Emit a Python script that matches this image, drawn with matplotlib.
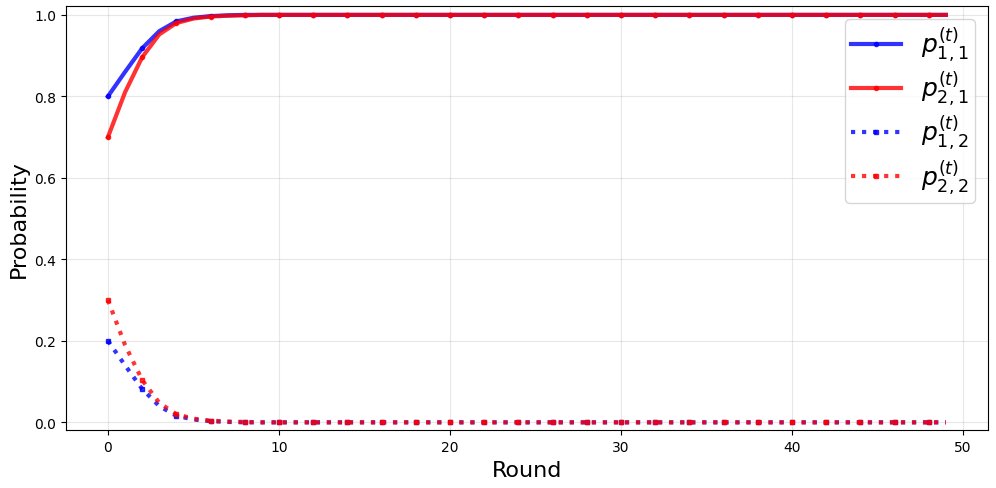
import matplotlib.pyplot as plt
import numpy as np

rounds = np.arange(50)

p11 = [0.800, 0.860, 0.918, 0.960, 0.984, 0.993, 0.997, 0.999, 1.000, 1.000,
       1.000, 1.000, 1.000, 1.000, 1.000, 1.000, 1.000, 1.000, 1.000, 1.000,
       1.000, 1.000, 1.000, 1.000, 1.000, 1.000, 1.000, 1.000, 1.000, 1.000,
       1.000, 1.000, 1.000, 1.000, 1.000, 1.000, 1.000, 1.000, 1.000, 1.000,
       1.000, 1.000, 1.000, 1.000, 1.000, 1.000, 1.000, 1.000, 1.000, 1.000]
p21 = [0.700, 0.810, 0.896, 0.952, 0.980, 0.991, 0.996, 0.998, 0.999, 1.000,
       1.000, 1.000, 1.000, 1.000, 1.000, 1.000, 1.000, 1.000, 1.000, 1.000,
       1.000, 1.000, 1.000, 1.000, 1.000, 1.000, 1.000, 1.000, 1.000, 1.000,
       1.000, 1.000, 1.000, 1.000, 1.000, 1.000, 1.000, 1.000, 1.000, 1.000,
       1.000, 1.000, 1.000, 1.000, 1.000, 1.000, 1.000, 1.000, 1.000, 1.000]
p12 = [0.200, 0.140, 0.082, 0.040, 0.016, 0.007, 0.003, 0.001, 0.000, 0.000,
       0.000, 0.000, 0.000, 0.000, 0.000, 0.000, 0.000, 0.000, 0.000, 0.000,
       0.000, 0.000, 0.000, 0.000, 0.000, 0.000, 0.000, 0.000, 0.000, 0.000,
       0.000, 0.000, 0.000, 0.000, 0.000, 0.000, 0.000, 0.000, 0.000, 0.000,
       0.000, 0.000, 0.000, 0.000, 0.000, 0.000, 0.000, 0.000, 0.000, 0.000]
p22 = [0.300, 0.190, 0.104, 0.048, 0.020, 0.009, 0.004, 0.002, 0.001, 0.000,
       0.000, 0.000, 0.000, 0.000, 0.000, 0.000, 0.000, 0.000, 0.000, 0.000,
       0.000, 0.000, 0.000, 0.000, 0.000, 0.000, 0.000, 0.000, 0.000, 0.000,
       0.000, 0.000, 0.000, 0.000, 0.000, 0.000, 0.000, 0.000, 0.000, 0.000,
       0.000, 0.000, 0.000, 0.000, 0.000, 0.000, 0.000, 0.000, 0.000, 0.000]

fig, ax = plt.subplots(figsize=(9.96, 4.89), dpi=100)

ax.plot(rounds, p11, c='blue', lw=3, alpha=0.8, marker='o', markersize=3,
        markevery=2, label=r'$p_{1,1}^{(t)}$')
ax.plot(rounds, p21, c='red', lw=3, alpha=0.8, marker='o', markersize=3,
        markevery=2, label=r'$p_{2,1}^{(t)}$')
ax.plot(rounds, p12, c='blue', lw=3, ls=':', alpha=0.8, marker='s', markersize=3,
        markevery=2, label=r'$p_{1,2}^{(t)}$')
ax.plot(rounds, p22, c='red', lw=3, ls=':', alpha=0.8, marker='s', markersize=3,
        markevery=2, label=r'$p_{2,2}^{(t)}$')

ax.set_ylim(-0.02, 1.021)
ax.set_xlabel('Round', fontsize=16)
ax.set_ylabel('Probability', fontsize=16)
ax.tick_params(labelsize=10)
ax.grid(True, alpha=0.3)
ax.legend(fontsize=18, loc='upper right', labelspacing=0.2, borderpad=0.25)

plt.subplots_adjust(left=0.0663, right=0.9917, top=0.985, bottom=0.1176)
plt.savefig('out.png', dpi=100)
